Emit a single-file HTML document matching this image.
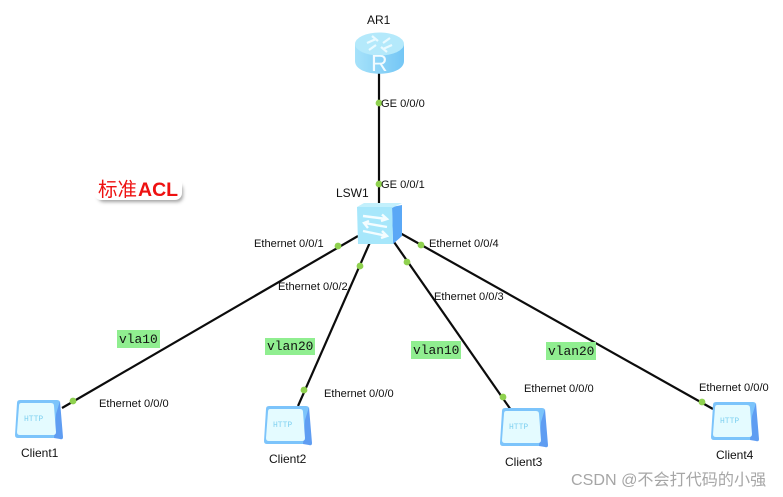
<!DOCTYPE html>
<html><head><meta charset="utf-8">
<style>
html,body{margin:0;padding:0;background:#fff;width:783px;height:497px;overflow:hidden}
svg{display:block}
text{font-family:"Liberation Sans","Noto Sans CJK SC",sans-serif;font-size:11.1px;fill:#111}
.n{font-size:12px}
.m{font-family:"Liberation Mono",monospace;font-size:12.9px;fill:#111}
</style></head><body>
<svg width="783" height="497" viewBox="0 0 783 497" xmlns="http://www.w3.org/2000/svg">
<defs>
<linearGradient id="rb" x1="0" y1="0" x2="1" y2="0"><stop offset="0" stop-color="#a6e2fa"/><stop offset="1" stop-color="#74c6f5"/></linearGradient>
<filter id="sh" x="-20%" y="-30%" width="140%" height="170%"><feGaussianBlur stdDeviation="1.8"/></filter>
<g id="client">
<path d="M5 0 H42 Q45 0 45 3 L42 36 Q42 38 39 38 H3 Q0 38 0 35 L2 3 Q2 0 5 0Z" fill="#7cc4fb"/>
<path d="M45 1 L48 37 Q48 40 45 39 L39 38 L41 14Z" fill="#5f9df2"/>
<path d="M6 3 H36 Q39 3 39 6 L41 32 Q41 35 38 35 H5 Q2 35 2 32 L4 6 Q4 3 6 3Z" fill="#e4fbff"/>
<text x="9" y="21" style="font-family:'Liberation Mono',monospace;font-size:8px;fill:#7fd0f0">HTTP</text>
</g>
</defs>

<g stroke="#0c0c0c" stroke-width="2.2" fill="none">
<line x1="379" y1="70" x2="379" y2="205"/>
<line x1="358" y1="236" x2="62" y2="408"/>
<line x1="371" y1="240" x2="298" y2="406"/>
<line x1="394" y1="242" x2="511" y2="410"/>
<line x1="400" y1="233" x2="713" y2="409"/>
</g>

<!-- router -->
<path d="M355 44 V61 C355 78 404 78 404 61 V44Z" fill="url(#rb)"/>
<ellipse cx="379.5" cy="44" rx="24.5" ry="11.5" fill="#b4e9fb"/>
<g stroke="#eafaff" stroke-width="2.2" fill="none">
<path d="M367 43 L376 39M392 45 L383 49M372 36 L378 41M387 52 L381 47M369 50 L376 45M390 38 L383 43"/>
</g>
<text x="371" y="71" style="font-size:23px;fill:#f2fbff">R</text>

<!-- switch -->
<path d="M392 207 L402 205 V236 L393 244Z" fill="#5aa8f6"/>
<path d="M357 207 L364 203 H402 L392 208Z" fill="#c3f0fc"/>
<path d="M357 207 H392 L393 244 H358Z" fill="#a7e7fb"/>
<g stroke="#f4fdff" stroke-width="2.4" fill="none">
<path d="M363 216 L387 219 M382 214.5 L387 219 L381 221"/>
<path d="M387 227 L364 223 M369 221 L364 223 L368 228"/>
<path d="M363 231 L387 236 M382 231 L387 236 L381 238"/>
</g>

<use href="#client" x="15" y="400"/>
<use href="#client" x="264" y="406"/>
<use href="#client" x="500" y="408"/>
<use href="#client" x="711" y="402"/>

<g fill="#8fd14f">
<circle cx="379" cy="103" r="3.4"/><circle cx="379" cy="184" r="3.4"/>
<circle cx="338" cy="246" r="3.4"/><circle cx="73" cy="401" r="3.4"/>
<circle cx="360" cy="266" r="3.4"/><circle cx="304" cy="390" r="3.4"/>
<circle cx="407" cy="262" r="3.4"/><circle cx="503" cy="397" r="3.4"/>
<circle cx="421" cy="245" r="3.4"/><circle cx="702" cy="402" r="3.4"/>
</g>

<text class="n" x="367" y="24">AR1</text>
<text class="n" x="336" y="197">LSW1</text>
<text x="381" y="107">GE 0/0/0</text>
<text x="381" y="188">GE 0/0/1</text>
<text x="254" y="247">Ethernet 0/0/1</text>
<text x="278" y="290">Ethernet 0/0/2</text>
<text x="434" y="300">Ethernet 0/0/3</text>
<text x="429" y="247">Ethernet 0/0/4</text>
<text x="99" y="407">Ethernet 0/0/0</text>
<text x="324" y="397">Ethernet 0/0/0</text>
<text x="524" y="392">Ethernet 0/0/0</text>
<text x="699" y="391">Ethernet 0/0/0</text>
<text class="n" x="21" y="457">Client1</text>
<text class="n" x="269" y="463">Client2</text>
<text class="n" x="505" y="466">Client3</text>
<text class="n" x="716" y="459">Client4</text>

<g fill="#90ee90">
<rect x="117" y="330" width="43" height="18"/>
<rect x="265" y="338" width="50" height="17"/>
<rect x="411" y="341" width="50" height="18"/>
<rect x="546" y="342" width="50" height="18"/>
</g>
<text class="m" x="119" y="343">vla10</text>
<text class="m" x="267" y="350">vlan20</text>
<text class="m" x="413" y="354">vlan10</text>
<text class="m" x="548" y="355">vlan20</text>

<!-- title -->
<rect x="98" y="184" width="85" height="18" rx="6" fill="#444" opacity=".5" filter="url(#sh)"/>
<rect x="94" y="177" width="88" height="23" rx="7" fill="#fff"/>
<text x="98" y="196" style="font-size:19.5px;fill:#ee1111">标准<tspan style="font-weight:bold;font-size:19.5px" dx="1">ACL</tspan></text>

<text x="571" y="485" style="font-size:16.1px;fill:#a6a6a6">CSDN @不会打代码的小强</text>
</svg>
</body></html>
